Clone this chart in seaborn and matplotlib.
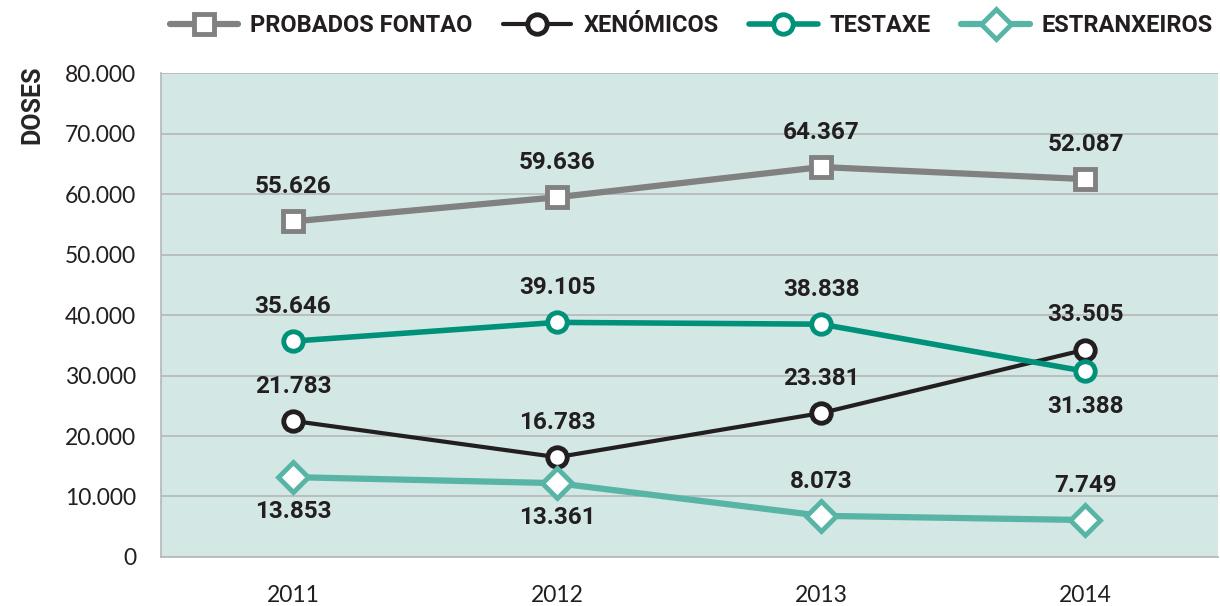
import pandas as pd
import matplotlib
matplotlib.use("Agg")
import matplotlib.pyplot as plt
import seaborn as sns
from matplotlib.ticker import FuncFormatter, FixedLocator

years = ["2011", "2012", "2013", "2014"]
series_names = ["PROBADOS FONTAO", "XENÓMICOS", "TESTAXE", "ESTRANXEIROS"]
# plotted positions
probados = [55500, 59500, 64500, 62500]
xenomicos = [22500, 16500, 23800, 34300]
testaxe = [35700, 38800, 38500, 30700]
estranxeiros = [13200, 12200, 6800, 6100]
# printed labels as shown on the chart
probados_lbl = ["55.626", "59.636", "64.367", "52.087"]
xenomicos_lbl = ["21.783", "16.783", "23.381", "33.505"]
testaxe_lbl = ["35.646", "39.105", "38.838", "31.388"]
estranxeiros_lbl = ["13.853", "13.361", "8.073", "7.749"]

values = [probados, xenomicos, testaxe, estranxeiros]
labels = [probados_lbl, xenomicos_lbl, testaxe_lbl, estranxeiros_lbl]
colors = ["#818181", "#231f20", "#00917a", "#58b5a6"]
markers = ["s", "o", "o", "D"]
msizes = [15, 14, 14, 15]
lwidths = [4.5, 3, 4, 4.5]
# +1 above point, -1 below point
label_side = [[1, 1, 1, 1], [1, 1, 1, 1], [1, 1, 1, -1], [-1, -1, 1, 1]]

sns.set_style("white")
plt.rcParams["font.family"] = ["Lato", "DejaVu Sans"]
bold_font = ["Roboto", "DejaVu Sans"]

fig = plt.figure(figsize=(12.2, 6.06), dpi=100)
ax = fig.add_axes([0.132, 0.081, 0.866, 0.798])
ax.set_facecolor("#d3e8e4")

grid_c = "#b4b6b7"
for i, name in enumerate(series_names):
    df = pd.DataFrame({"x": range(len(years)), "y": values[i]})
    sns.lineplot(data=df, x="x", y="y", ax=ax, color=colors[i], lw=lwidths[i],
                 marker=markers[i], markersize=msizes[i], markerfacecolor="white",
                 markeredgecolor=colors[i], markeredgewidth=3.5, label=name, zorder=3 + i)
    for j, v in enumerate(values[i]):
        off = 25 if label_side[i][j] > 0 else -25
        ax.annotate(labels[i][j], (j, v), xytext=(0, off), textcoords="offset points",
                    ha="center", va="center", fontsize=17.5, fontweight="bold",
                    family=bold_font, color="#231f20", zorder=10)

ax.set_xlim(-0.5, 3.5)
ax.set_ylim(0, 80000)
ax.set_yticks(range(0, 80001, 10000))
ax.yaxis.set_major_formatter(FuncFormatter(lambda v, p: f"{v:,.0f}".replace(",", ".")))
ax.set_xticks(range(len(years)))
ax.set_xticklabels(years)
ax.xaxis.set_minor_locator(FixedLocator([-0.5, 0.5, 1.5, 2.5, 3.5]))
ax.tick_params(axis="x", which="major", length=0, pad=20, labelsize=16.5, colors="#231f20")
ax.tick_params(axis="x", which="minor", length=16, width=1.2, color=grid_c)
ax.tick_params(axis="y", length=14, width=1.2, color=grid_c, labelsize=16.5, labelcolor="#231f20", pad=4)
ax.yaxis.grid(True, color=grid_c, lw=1.2)
ax.set_axisbelow(True)
for s in ["top", "right"]:
    ax.spines[s].set_visible(False)
ax.spines["left"].set_color(grid_c)
ax.spines["bottom"].set_color(grid_c)
ax.spines["left"].set_linewidth(1.2)
ax.spines["bottom"].set_linewidth(1.2)
ax.set_xlabel("")
ax.set_ylabel("DOSES", fontsize=18, fontweight="bold", family=bold_font)
ax.yaxis.set_label_coords(-0.11, 0.935)

ax.legend().remove()
handles, hl = ax.get_legend_handles_labels()
leg = fig.legend(handles, hl, loc="upper right", bbox_to_anchor=(0.998, 0.985), ncol=4,
                 frameon=False, handlelength=2.9, columnspacing=1.3, handletextpad=0.5,
                 borderpad=0.2, borderaxespad=0,
                 prop={"family": bold_font, "weight": "bold", "size": 17})
for t in leg.get_texts():
    t.set_color("#231f20")

fig.savefig("out.png", dpi=100)
